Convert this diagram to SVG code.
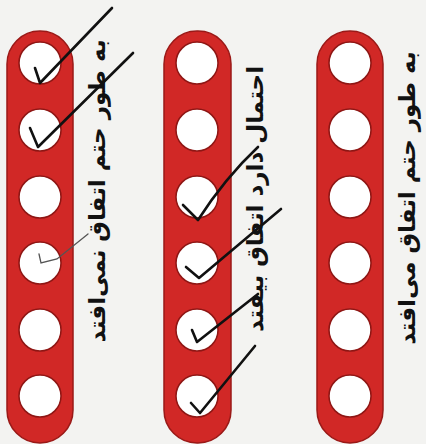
<svg xmlns="http://www.w3.org/2000/svg" width="426" height="444" viewBox="0 0 426 444">
<style>
.bar{fill:#d12826;stroke:#9a1917;stroke-width:1.5}
.hole{fill:#ffffff;stroke:#8e1614;stroke-width:1.5}
.lbl{font-family:"DejaVu Sans",sans-serif;font-size:23px;font-weight:bold;fill:#111;text-anchor:middle;dominant-baseline:central}
.chk{fill:none;stroke:#111;stroke-width:2.6;stroke-linecap:round;stroke-linejoin:round}
.thin{fill:none;stroke:#555;stroke-width:1.3;stroke-linecap:round}
</style>
<defs>
<g id="holes">
<circle cx="0" cy="63" r="21"/>
<circle cx="0" cy="130" r="21"/>
<circle cx="0" cy="197" r="21"/>
<circle cx="0" cy="263" r="21"/>
<circle cx="0" cy="330" r="21"/>
<circle cx="0" cy="396" r="21"/>
</g>
</defs>
<rect width="426" height="444" fill="#f3f3f1"/>
<g id="bar1">
<rect class="bar" x="7" y="31" width="66" height="412" rx="33"/>
<use href="#holes" x="40" class="hole"/>
<text class="lbl" transform="translate(97,191) rotate(-90)">به طور حتم اتفاق نمی‌افتد</text>
</g>
<g id="bar2">
<rect class="bar" x="164" y="31" width="67" height="412" rx="33"/>
<use href="#holes" x="197" class="hole"/>
<text class="lbl" transform="translate(255,199) rotate(-90)">احتمال دارد اتفاق بیفتد</text>
</g>
<g id="bar3">
<rect class="bar" x="317" y="31" width="66" height="412" rx="33"/>
<use href="#holes" x="350" class="hole"/>
<text class="lbl" transform="translate(407,198) rotate(-90)">به طور حتم اتفاق می‌افتد</text>
</g>
<g id="checks">
<path class="chk" d="M35,68 L40,83 L112,8"/>
<path class="chk" d="M30,128 L38,147 L133,53"/>
<path class="thin" d="M39,254 L41,263 L57,259 L88,234"/>
<path class="chk" d="M183,205 L198,220 Q225,178 258,147"/>
<path class="chk" d="M186,267 L199,278 L281,209"/>
<path class="chk" d="M192,330 L197,342 L258,294"/>
<path class="chk" d="M191,403 L200,413 L255,346"/>
</g>
</svg>
